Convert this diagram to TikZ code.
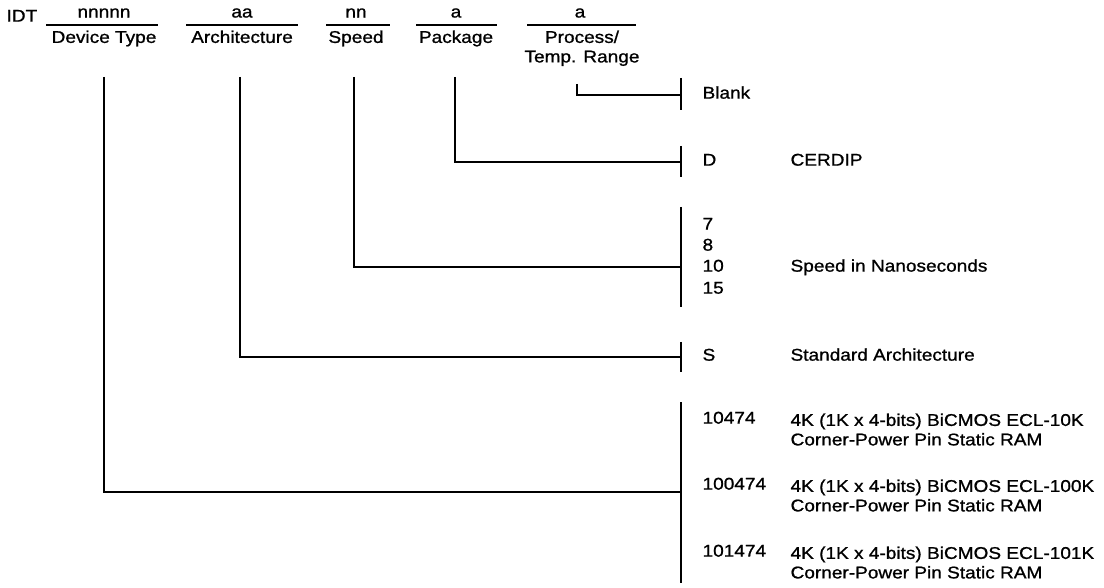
\documentclass[tikz,border=0pt]{standalone}
\usepackage{fontspec}
\setmainfont[FakeStretch=1.12,FakeBold=1.0]{Liberation Sans}
\begin{document}
\begin{tikzpicture}[x=1pt,y=-1pt,
  line width=1.15pt,
  txt/.style={inner sep=0pt, font=\fontsize{17}{19.5}\selectfont},
  lbl/.style={txt, anchor=north, align=center},
  code/.style={txt, anchor=mid west},
  desc/.style={txt, anchor=mid west, align=left}]
\useasboundingbox (0,0) rectangle (1104,588);

% header
\node[txt, anchor=mid west] (idt) at (6,19) {IDT};
\node[txt] (h1) at (104,13) {nnnnn};
\node[txt] (h2) at (242,13) {aa};
\node[txt] (h3) at (356,13) {nn};
\node[txt] (h4) at (456,13) {a};
\node[txt] (h5) at (580,13) {a};
\coordinate (u1a) at (46,25);  \coordinate (u1b) at (158,25);
\coordinate (u2a) at (186,25); \coordinate (u2b) at (298,25);
\coordinate (u3a) at (326,25); \coordinate (u3b) at (390,25);
\coordinate (u4a) at (416,25); \coordinate (u4b) at (497,25);
\coordinate (u5a) at (527,25); \coordinate (u5b) at (636,25);
\draw (u1a) -- (u1b);
\draw (u2a) -- (u2b);
\draw (u3a) -- (u3b);
\draw (u4a) -- (u4b);
\draw (u5a) -- (u5b);
\node[lbl] (l1) at (104,30) {Device Type};
\node[lbl] (l2) at (242,30) {Architecture};
\node[lbl] (l3) at (356,30) {Speed};
\node[lbl] (l4) at (456,30) {Package};
\node[lbl] (l5) at (582,30) {Process/\\Temp. Range};

% drop points
\coordinate (t1) at (104,77);
\coordinate (t2) at (240,77);
\coordinate (t3) at (354,77);
\coordinate (t4) at (455,77);
\coordinate (t5) at (577,84);

% bars
\coordinate (b5a) at (681,78);  \coordinate (b5b) at (681,110);
\coordinate (b4a) at (681,146); \coordinate (b4b) at (681,177);
\coordinate (b3a) at (681,207); \coordinate (b3b) at (681,307);
\coordinate (b2a) at (681,342); \coordinate (b2b) at (681,372);
\coordinate (b1a) at (681,402); \coordinate (b1b) at (681,583);
\draw (b5a) -- (b5b);
\draw (b4a) -- (b4b);
\draw (b3a) -- (b3b);
\draw (b2a) -- (b2b);
\draw (b1a) -- (b1b);

% junctions
\coordinate (j5) at (681,95);
\coordinate (j4) at (681,162);
\coordinate (j3) at (681,267);
\coordinate (j2) at (681,357);
\coordinate (j1) at (681,492);
\draw (t5) |- (j5);
\draw (t4) |- (j4);
\draw (t3) |- (j3);
\draw (t2) |- (j2);
\draw (t1) |- (j1);

% codes and descriptions
\node[code] (blank) at (702,96) {Blank};
\node[code] (cd) at (702,163) {D};
\node[desc] (dd) at (790,163) {CERDIP};
\node[code] (s7) at (702,227) {7};
\node[code] (s8) at (702,248) {8};
\node[code] (s10) at (702,269) {10};
\node[code] (s15) at (702,291) {15};
\node[desc] (ds) at (790,269) {Speed in Nanoseconds};
\node[code] (cs) at (702,358) {S};
\node[desc] (da) at (790,358) {Standard Architecture};
\node[code] (n1) at (702,421) {10474};
\node[desc, anchor=north west] (dn1) at (790,413) {4K (1K x 4-bits) BiCMOS ECL-10K\\Corner-Power Pin Static RAM};
\node[code] (n2) at (702,487) {100474};
\node[desc, anchor=north west] (dn2) at (790,479) {4K (1K x 4-bits) BiCMOS ECL-100K\\Corner-Power Pin Static RAM};
\node[code] (n3) at (702,554) {101474};
\node[desc, anchor=north west] (dn3) at (790,546) {4K (1K x 4-bits) BiCMOS ECL-101K\\Corner-Power Pin Static RAM};
\end{tikzpicture}
\end{document}
